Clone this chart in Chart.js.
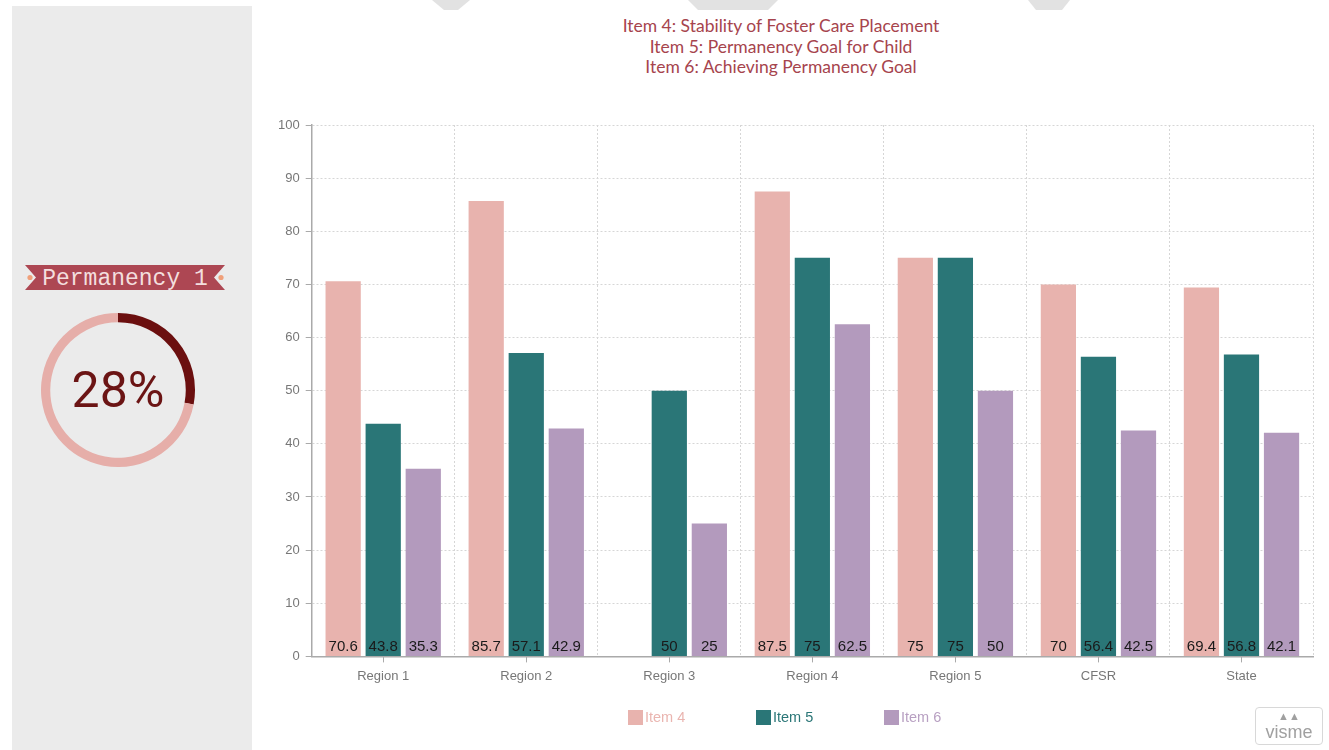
<!DOCTYPE html>
<html>
<head>
<meta charset="utf-8">
<script src="https://cdn.jsdelivr.net/npm/chart.js@4/dist/chart.umd.min.js"></script>
<style>
  html, body { margin: 0; padding: 0; background: #ffffff; width: 1329px; height: 750px; overflow: hidden; }
  #panel { position: absolute; left: 12px; top: 6px; width: 240px; height: 744px; background: #ebebeb; }
  #wrap { position: absolute; left: 240px; top: 0; width: 1082px; height: 750px; }
  #title { position: absolute; left: 481px; top: 16px; width: 600px; text-align: center; font-family: Lato, "Liberation Sans", sans-serif;
           font-size: 17.5px; line-height: 20.5px; color: #a6444d; }
  #gaugeWrap { position: absolute; left: 38px; top: 310px; width: 160px; height: 160px; }
  #gaugeText { position: absolute; left: 38px; top: 310px; width: 160px; height: 160px; line-height: 160px; text-align: center;
               font-family: Roboto, "Liberation Sans", sans-serif; font-size: 50px; color: #6b1414; }
  #legend { position: absolute; top: 709px; left: 628px; font-family: "Liberation Sans", Arial, sans-serif; font-size: 14.5px; }
  .li { position: absolute; white-space: nowrap; height: 17px; line-height: 17px; }
  .li span.box { display: inline-block; width: 15px; height: 15px; vertical-align: -3px; margin-right: 2px; }
  #visme { position: absolute; left: 1255px; top: 707px; width: 68px; height: 38px; border: 1px solid #d8d8d8; border-radius: 4px; box-sizing: border-box;
           font-family: "Liberation Sans", Arial, sans-serif; color: #a0a0a0; font-size: 18px; text-align: center; }
</style>
</head>
<body>
<svg width="1329" height="12" style="position:absolute;left:0;top:0">
  <polygon points="432,0 470,0 458,10 444,10" fill="#e2e2e2"/>
  <polygon points="688,0 778,0 768,10 698,10" fill="#e2e2e2"/>
  <polygon points="1028,0 1070,0 1062,10 1036,10" fill="#e2e2e2"/>
</svg>
<div id="panel"></div>
<svg width="250" height="40" style="position:absolute;left:0;top:260px">
  <polygon points="25,5 225,5 214,17.5 225,30 25,30 36,17.5" fill="#ad4753"/>
  <circle cx="30" cy="17.5" r="2.6" fill="#f0a07a"/>
  <circle cx="221" cy="17.5" r="2.6" fill="#f0a07a"/>
  <text x="125" y="25" text-anchor="middle" font-family="'Liberation Mono', 'DejaVu Sans Mono', monospace" font-size="23" fill="#f3dede">Permanency 1</text>
</svg>
<div id="gaugeWrap"><canvas id="gauge" width="160" height="160"></canvas></div>
<div id="gaugeText"></div>
<div id="title"></div>
<div id="wrap"><canvas id="chart" width="1082" height="750"></canvas></div>
<div id="legend"></div>
<div id="visme"><div style="height:14px;font-size:11px;line-height:16px;">&#9650;&#9650;</div><div style="line-height:20px">visme</div></div>
<script>
const titleLines = ["Item 4: Stability of Foster Care Placement", "Item 5: Permanency Goal for Child", "Item 6: Achieving Permanency Goal"];
const categories = ["Region 1", "Region 2", "Region 3", "Region 4", "Region 5", "CFSR", "State"];
const seriesNames = ["Item 4", "Item 5", "Item 6"];
const item4 = [70.6, 85.7, null, 87.5, 75, 70, 69.4];
const item5 = [43.8, 57.1, 50, 75, 75, 56.4, 56.8];
const item6 = [35.3, 42.9, 25, 62.5, 50, 42.5, 42.1];
const seriesColors = ["#e8b3ae", "#2a7677", "#b39abd"];
const legendTextColors = ["#eab5b0", "#2a7677", "#b8a0c2"];
const yTicks = [0, 10, 20, 30, 40, 50, 60, 70, 80, 90, 100];
const gaugeValue = 28;
const gaugeRest = 100 - gaugeValue;

document.getElementById('title').innerHTML = titleLines.join('<br>');

// Gauge
new Chart(document.getElementById('gauge'), {
  type: 'doughnut',
  data: { datasets: [{ data: [gaugeValue, gaugeRest], backgroundColor: ["#6b0f0f", "#e6aea9"], borderWidth: 0 }] },
  options: { responsive: false, animation: false, cutout: '88%', plugins: { legend: { display: false }, tooltip: { enabled: false } }, layout: { padding: 3 } }
});
document.getElementById('gaugeText').textContent = gaugeValue + '%';

// Legend
const legendEl = document.getElementById('legend');
seriesNames.forEach((n, i) => {
  const d = document.createElement('div');
  d.className = 'li';
  d.style.left = (i * 128) + 'px';
  d.style.color = legendTextColors[i];
  d.innerHTML = '<span class="box" style="background:' + seriesColors[i] + '"></span>' + n;
  legendEl.appendChild(d);
});

const barLabels = {
  id: 'barLabels',
  afterDatasetsDraw(chart) {
    const ctx = chart.ctx;
    ctx.save();
    ctx.font = '15px "Liberation Sans", Arial, sans-serif';
    ctx.fillStyle = '#1a1a1a';
    ctx.textAlign = 'center';
    ctx.textBaseline = 'alphabetic';
    chart.data.datasets.forEach((ds, di) => {
      const meta = chart.getDatasetMeta(di);
      meta.data.forEach((el, i) => {
        const v = ds.data[i];
        if (v === null || v === undefined) return;
        ctx.fillText(String(v), el.x, chart.chartArea.bottom - 5);
      });
    });
    ctx.restore();
  }
};

const xTickMarks = {
  id: 'xTickMarks',
  afterDraw(chart) {
    const sx = chart.scales.x;
    const ctx = chart.ctx;
    ctx.save();
    ctx.strokeStyle = '#aaaaaa';
    ctx.lineWidth = 1;
    categories.forEach((c, i) => {
      const x = Math.round(sx.getPixelForValue(i)) + 0.5;
      ctx.beginPath();
      ctx.moveTo(x, chart.chartArea.bottom);
      ctx.lineTo(x, chart.chartArea.bottom + 6);
      ctx.stroke();
    });
    ctx.restore();
  }
};

const mk = (i, data) => ({ label: seriesNames[i], data: data, backgroundColor: seriesColors[i], borderWidth: 0,
  categoryPercentage: 0.84, barPercentage: 0.88 });

new Chart(document.getElementById('chart'), {
  type: 'bar',
  data: { labels: categories, datasets: [mk(0, item4), mk(1, item5), mk(2, item6)] },
  plugins: [barLabels, xTickMarks],
  options: {
    responsive: false,
    animation: false,
    layout: { padding: { left: 32, right: 9, top: 125, bottom: 54 } },
    plugins: {
      legend: { display: false },
      tooltip: { enabled: false },
      title: { display: false }
    },
    scales: {
      x: {
        grid: { display: true, offset: true, color: '#d6d6d6', drawTicks: false },
        border: { display: true, color: '#aaaaaa', width: 1.5, dash: [2, 2] },
        ticks: { color: '#777777', padding: 12, font: { family: '"Liberation Sans", Arial, sans-serif', size: 13 } }
      },
      y: {
        min: 0, max: 100,
        afterBuildTicks(scale) { scale.ticks = yTicks.map(v => ({ value: v })); },
        grid: { color: '#d6d6d6', tickLength: 6, tickColor: '#aaaaaa' },
        border: { display: true, color: '#aaaaaa', width: 1.5, dash: [2, 2] },
        ticks: { color: '#777777', padding: 6, font: { family: '"Liberation Sans", Arial, sans-serif', size: 13 } }
      }
    }
  }
});
</script>
</body>
</html>
